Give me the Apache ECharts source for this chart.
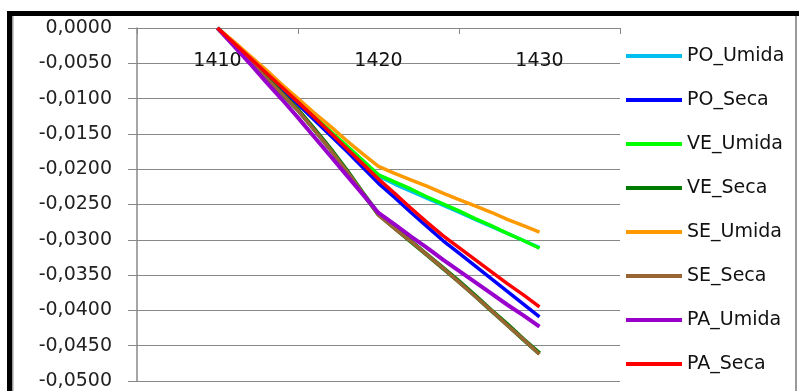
<!DOCTYPE html>
<html>
<head>
<meta charset="utf-8">
<script src="https://cdn.jsdelivr.net/npm/echarts@6/dist/echarts.min.js"></script>
<style>
html,body{margin:0;padding:0;background:#fff;}
#c{width:799px;height:391px;}
</style>
</head>
<body>
<div id="c"></div>
<script>
var xValues = [1410,1411,1412,1413,1414,1415,1416,1417,1418,1419,1420,1421,1422,1423,1424,1425,1426,1427,1428,1429,1430];
var xTickValues = [1405,1415,1425,1435];
var xLabelValues = [1410,1420,1430];
var seriesNames = ['PO_Umida','PO_Seca','VE_Umida','VE_Seca','SE_Umida','SE_Seca','PA_Umida','PA_Seca'];
var PO_Umida = [0,-0.0021,-0.0042,-0.0063,-0.0084,-0.0105,-0.0126,-0.0147,-0.0168,-0.0189,-0.0210,-0.0221,-0.0231,-0.0241,-0.0251,-0.0261,-0.0271,-0.0281,-0.0291,-0.0301,-0.0311];
var PO_Seca = [0,-0.0022,-0.0044,-0.0066,-0.0087,-0.0108,-0.0130,-0.0152,-0.0174,-0.0197,-0.0220,-0.0240,-0.0261,-0.0281,-0.0301,-0.0319,-0.0337,-0.0355,-0.0373,-0.0391,-0.0409];
var VE_Umida = [0,-0.0021,-0.0042,-0.0062,-0.0083,-0.0104,-0.0125,-0.0146,-0.0166,-0.0187,-0.0208,-0.0218,-0.0228,-0.0239,-0.0249,-0.0259,-0.0270,-0.0280,-0.0291,-0.0301,-0.0312];
var VE_Seca = [0,-0.0023,-0.0046,-0.0069,-0.0093,-0.0116,-0.0143,-0.0171,-0.0201,-0.0233,-0.0264,-0.0283,-0.0302,-0.0321,-0.0340,-0.0359,-0.0379,-0.0400,-0.0420,-0.0441,-0.0461];
var SE_Umida = [0,-0.0019,-0.0039,-0.0059,-0.0080,-0.0100,-0.0120,-0.0139,-0.0159,-0.0178,-0.0196,-0.0206,-0.0215,-0.0224,-0.0234,-0.0243,-0.0252,-0.0261,-0.0271,-0.0280,-0.0289];
var SE_Seca = [0,-0.0023,-0.0046,-0.0070,-0.0093,-0.0117,-0.0144,-0.0172,-0.0202,-0.0233,-0.0265,-0.0284,-0.0302,-0.0321,-0.0340,-0.0360,-0.0380,-0.0400,-0.0421,-0.0441,-0.0462];
var PA_Umida = [0,-0.0025,-0.0050,-0.0076,-0.0101,-0.0127,-0.0154,-0.0181,-0.0208,-0.0235,-0.0262,-0.0278,-0.0295,-0.0311,-0.0328,-0.0344,-0.0360,-0.0376,-0.0392,-0.0407,-0.0423];
var PA_Seca = [0,-0.0021,-0.0042,-0.0063,-0.0084,-0.0105,-0.0126,-0.0148,-0.0170,-0.0192,-0.0214,-0.0234,-0.0255,-0.0275,-0.0294,-0.0311,-0.0328,-0.0345,-0.0362,-0.0378,-0.0395];
var seriesValues = [PO_Umida,PO_Seca,VE_Umida,VE_Seca,SE_Umida,SE_Seca,PA_Umida,PA_Seca];
var colors = ['#00C0F0','#0000FF','#00FF00','#007A00','#FF9900','#996633','#9900CC','#FF0000'];
var widths = [3.5,3.5,3.5,4.5,3.5,3.5,4,3.5];

var font = 'DejaVu Sans';
var chart = echarts.init(document.getElementById('c'), null, {renderer:'canvas'});
var series = seriesNames.map(function(n,i){
  return {
    name:n, type:'line', showSymbol:false, symbol:'none',
    data: xValues.map(function(x,j){return [x, seriesValues[i][j]];}),
    lineStyle:{color:colors[i], width:widths[i]},
    itemStyle:{color:colors[i]},
    animation:false
  };
});
chart.setOption({
  animation:false,
  color: colors,
  grid:{left:137, top:28, right:179, bottom:10, containLabel:false},
  xAxis:{
    type:'value', position:'top', min:1405, max:1435,
    axisLine:{show:true, onZero:false, lineStyle:{color:'#888', width:1}},
    axisTick:{show:true, inside:true, length:6, customValues:xTickValues, lineStyle:{color:'#888'}},
    axisLabel:{show:true, inside:true, margin:24, customValues:xLabelValues, color:'#111', fontFamily:font, fontSize:19,
      formatter:function(v){ return String(Math.round(v)); }},
    splitLine:{show:false}
  },
  yAxis:{
    type:'value', min:-0.05, max:0, interval:0.005,
    axisLine:{show:true, lineStyle:{color:'#888', width:1.5}},
    axisTick:{show:true, length:9, lineStyle:{color:'#888'}},
    axisLabel:{margin:25, color:'#222', fontFamily:font, fontSize:19,
      formatter:function(v){ var s=(Math.abs(v)<1e-9?0:v).toFixed(4).replace('.',','); return s; }},
    splitLine:{show:true, lineStyle:{color:'#888', width:1}}
  },
  legend:{
    orient:'vertical', left:621, top:41, itemGap:24,
    icon:'rect', itemWidth:56, itemHeight:4,
    textStyle:{fontFamily:font, fontSize:19, color:'#111', lineHeight:20},
    data: seriesNames
  },
  graphic:[
    {type:'rect', shape:{x:7,y:11,width:792,height:5}, style:{fill:'#000'}, silent:true},
    {type:'rect', shape:{x:7,y:11,width:5,height:380}, style:{fill:'#000'}, silent:true},
    {type:'rect', shape:{x:12,y:16,width:1.5,height:375}, style:{fill:'#999'}, silent:true},
    {type:'rect', shape:{x:795,y:16,width:2,height:375}, style:{fill:'#999'}, silent:true}
  ],
  series: series
});
</script>
</body>
</html>
